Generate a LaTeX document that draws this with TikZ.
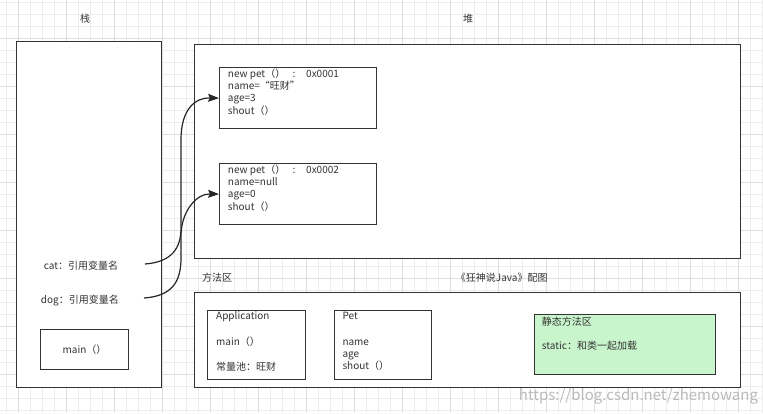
\documentclass[tikz,border=0pt]{standalone}
\usepackage{fontspec}
\setmainfont{Noto Sans CJK SC}
\usetikzlibrary{arrows.meta}
\definecolor{edge}{HTML}{333333}
\definecolor{txt}{HTML}{333333}
\definecolor{staticfill}{HTML}{C9F5CC}
\tikzset{
  box/.style={draw=edge, line width=1.2pt, fill=white, inner sep=0pt, anchor=north west},
  lbl/.style={font=\fontsize{10}{11}\selectfont, text=txt, inner sep=0pt, anchor=base west},
  ttl/.style={font=\fontsize{10}{11}\selectfont, text=txt, inner sep=0pt},
  link/.style={draw=black!85, line width=1.2pt, -{Stealth[length=11pt,width=8pt,inset=2pt]}},
  minor/.style={draw=black!7, line width=0.6pt},
  major/.style={draw=black!13, line width=0.7pt}
}
\begin{document}
\begin{tikzpicture}[x=1pt,y=-1pt]
\useasboundingbox (0,0) rectangle (763,413);
\fill[white] (0,0) rectangle (763,413);
% background grid
\foreach \x in {6.7,18.7,...,763} \draw[minor] (\x,0) -- (\x,413);
\foreach \y in {2,14,...,413} \draw[minor] (0,\y) -- (763,\y);
\foreach \x in {18.7,66.7,...,763} \draw[major] (\x,0) -- (\x,413);
\foreach \y in {38,86,...,413} \draw[major] (0,\y) -- (763,\y);

% titles
\node[ttl] (tstack) at (85,19) {栈};
\node[ttl] (theap) at (468,19) {堆};
\node[ttl] (tmethod) at (217,277.5) {方法区};
\node[ttl] (tbook) at (501.7,277.5) {《狂神说Java》配图};

% stack
\node[box, minimum width=145pt, minimum height=346pt] (stack) at (16,41) {};
\node[lbl] (cat) at (43.7,269) {cat：引用变量名};
\node[lbl] (dog) at (40.7,303) {dog：引用变量名};
\node[box, minimum width=88pt, minimum height=40pt] (mainbox) at (40,329) {};
\node[ttl] (maintxt) at (mainbox.center) {main（）};
\coordinate (catend) at (145,264);
\coordinate (dogend) at (144,298);

% heap
\node[box, minimum width=546pt, minimum height=214pt] (heap) at (194,44) {};
\node[box, minimum width=157pt, minimum height=61pt] (obj1) at (219,67) {};
\node[lbl] (o1a) at (227.7,77.3) {new pet（）};
\node[lbl] (o1k) at (292.5,77.3) {:};
\node[lbl] (o1x) at (306,77.3) {0x0001};
\node[lbl] (o1b) at (227.7,89.6) {name=“旺财”};
\node[lbl] (o1c) at (227.7,101.9) {age=3};
\node[lbl] (o1d) at (227.7,114.2) {shout（）};
\node[box, minimum width=157pt, minimum height=61pt] (obj2) at (219,163) {};
\node[lbl] (o2a) at (227.7,173.3) {new pet（）};
\node[lbl] (o2k) at (292.5,173.3) {:};
\node[lbl] (o2x) at (306,173.3) {0x0002};
\node[lbl] (o2b) at (227.7,185.6) {name=null};
\node[lbl] (o2c) at (227.7,197.9) {age=0};
\node[lbl] (o2d) at (227.7,210.2) {shout（）};

% method area
\node[box, minimum width=546pt, minimum height=95pt] (method) at (194,292) {};
\node[box, minimum width=98pt, minimum height=69pt] (app) at (207,310) {};
\node[lbl] (apa) at (216,319.3) {Application};
\node[lbl] (apb) at (216,345) {main（）};
\node[lbl] (apc) at (216,370) {常量池：旺财};
\node[box, minimum width=97pt, minimum height=69pt] (pet) at (334,310) {};
\node[lbl] (pta) at (342.3,319.3) {Pet};
\node[lbl] (ptb) at (342.3,345) {name};
\node[lbl] (ptc) at (342.3,357.3) {age};
\node[lbl] (ptd) at (342.3,369.3) {shout（）};
\node[box, fill=staticfill, minimum width=181pt, minimum height=60pt] (static) at (534,314) {};
\node[lbl] (sta) at (541.7,325) {静态方法区};
\node[lbl] (stb) at (541.7,349.3) {static：和类一起加载};

% watermark
\node[font=\fontsize{15}{16}\selectfont, text=black!27, inner sep=0pt] (wm) at (638.5,396) {https://blog.csdn.net/zhemowang};

% connectors
\draw[link] (catend) .. controls (172,262) and (181,248) .. (181,228) -- (181,140) .. controls (181,108) and (196,97.5) .. (obj1.west);
\draw[link] (dogend) .. controls (172,296) and (181,282) .. (181,258) -- (181,236) .. controls (181,212) and (196,193.5) .. (obj2.west);
\end{tikzpicture}
\end{document}
